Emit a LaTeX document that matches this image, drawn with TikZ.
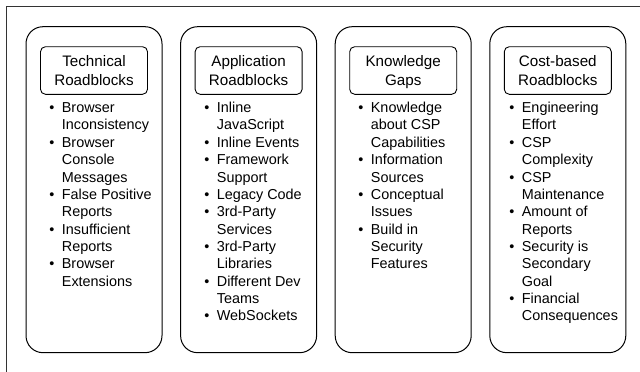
\documentclass[tikz,border=0pt]{standalone}
\usepackage{fontspec}
\setmainfont{Liberation Sans}
\newcommand\bi{\llap{•\hspace{7.5pt}}}
\begin{document}
\begin{tikzpicture}[x=1pt,y=-1pt,
  colbox/.style={draw=black,line width=1pt,rounded corners=17pt,minimum width=136pt,minimum height=326pt,inner sep=0pt},
  headbox/.style={draw=black,line width=0.9pt,rounded corners=5pt,minimum width=107pt,minimum height=47.6pt,inner sep=0pt},
  headtxt/.style={anchor=base,inner sep=0pt,font=\fontsize{15.2}{18}\selectfont},
  itemtxt/.style={anchor=base west,inner sep=0pt,font=\fontsize{14.4}{17}\selectfont}]
\useasboundingbox (0,0) rectangle (640,372);
\clip (0,0) rectangle (640,372);
\draw[black!80,line width=1pt] (6.5,6.5) rectangle (700,420);
% columns
\foreach \k/\cx in {1/94,2/248.6,3/403.2,4/557.8}{
  \node[colbox] (c\k) at (\cx,189.7) {};
  \node[headbox] (h\k) at (\cx,70.5) {};
}
\node[headtxt] (h1a) at (94,66.7) {Technical};
\node[headtxt] (h1b) at (94,85) {Roadblocks};
\node[headtxt] (h2a) at (248.6,66.7) {Application};
\node[headtxt] (h2b) at (248.6,85) {Roadblocks};
\node[headtxt] (h3a) at (403.2,66.7) {Knowledge};
\node[headtxt] (h3b) at (403.2,85) {Gaps};
\node[headtxt] (h4a) at (557.8,66.7) {Cost-based};
\node[headtxt] (h4b) at (557.8,85) {Roadblocks};
% lists
\foreach \t [count=\i] in {{\bi Browser},{Inconsistency},{\bi Browser},{Console},{Messages},{\bi False Positive},{Reports},{\bi Insufficient},{Reports},{\bi Browser},{Extensions}}
  \node[itemtxt] (l1-\i) at (61.7,{112.6+17.35*(\i-1)}) {\t};
\foreach \t [count=\i] in {{\bi Inline},{JavaScript},{\bi Inline Events},{\bi Framework},{Support},{\bi Legacy Code},{\bi 3rd-Party},{Services},{\bi 3rd-Party},{Libraries},{\bi Different Dev},{Teams},{\bi WebSockets}}
  \node[itemtxt] (l2-\i) at (216.7,{112.6+17.35*(\i-1)}) {\t};
\foreach \t [count=\i] in {{\bi Knowledge},{about CSP},{Capabilities},{\bi Information},{Sources},{\bi Conceptual},{Issues},{\bi Build in},{Security},{Features}}
  \node[itemtxt] (l3-\i) at (370.7,{112.6+17.35*(\i-1)}) {\t};
\foreach \t [count=\i] in {{\bi Engineering},{Effort},{\bi CSP},{Complexity},{\bi CSP},{Maintenance},{\bi Amount of},{Reports},{\bi Security is},{Secondary},{Goal},{\bi Financial},{Consequences}}
  \node[itemtxt] (l4-\i) at (521.7,{112.6+17.35*(\i-1)}) {\t};
\end{tikzpicture}
\end{document}
